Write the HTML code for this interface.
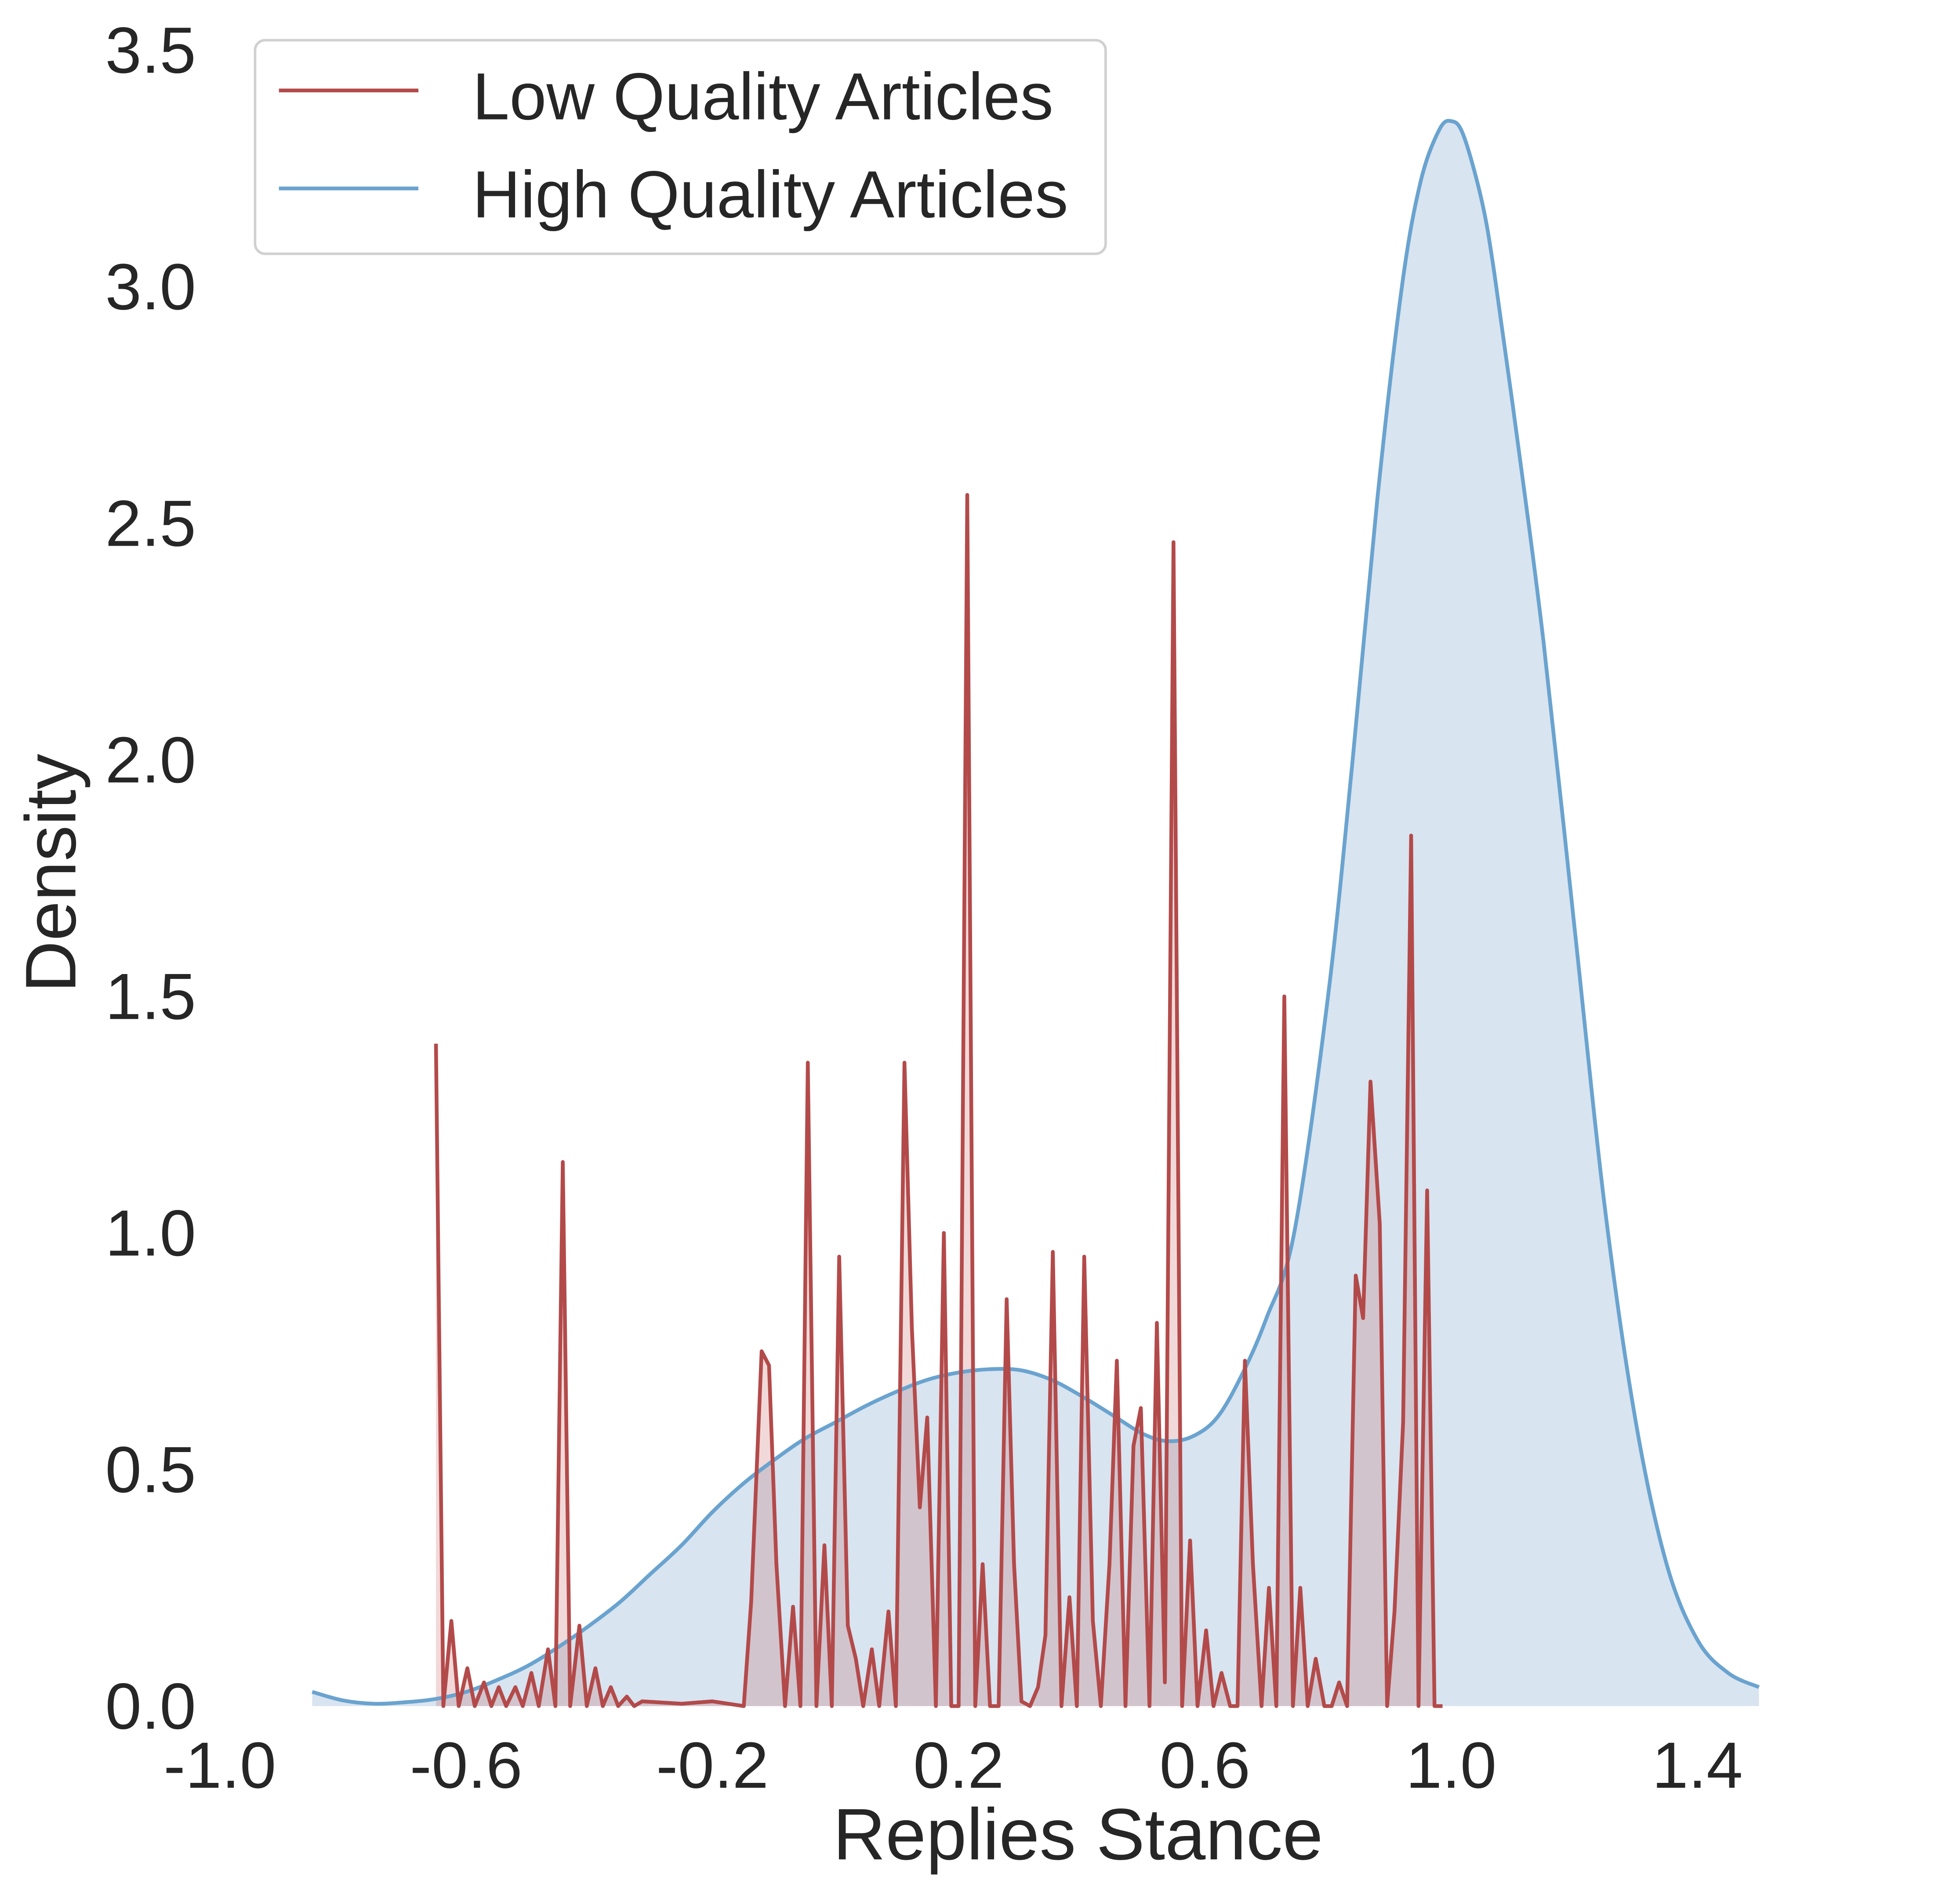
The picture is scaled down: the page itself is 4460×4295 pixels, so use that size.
<!DOCTYPE html>
<html><head><meta charset="utf-8"><style>
html,body{margin:0;padding:0;background:#fff;}
svg{display:block;}
text{font-family:"Liberation Sans",Arial,sans-serif;fill:#262626;}
</style></head><body>
<svg id="chart" width="4460" height="4295" viewBox="0 0 1560 1502" preserveAspectRatio="none" xmlns="http://www.w3.org/2000/svg">
<g id="plot"></g>
<g id="axes"></g>
<text x="858" y="1480" font-size="58" text-anchor="middle">Replies Stance</text>
<text transform="translate(60,695) rotate(-90)" font-size="57" text-anchor="middle">Density</text>
<g>
<rect x="203" y="32" width="677" height="170" rx="8" fill="#fff" stroke="#d0d0d0" stroke-width="2"/>
<g>
<line x1="222" y1="72" x2="333" y2="72" stroke="#b34a4a" stroke-width="3"/>
<text x="376" y="95" font-size="53">Low Quality Articles</text>
</g>
<g>
<line x1="222" y1="150" x2="333" y2="150" stroke="#6aa3cf" stroke-width="3"/>
<text x="376" y="173" font-size="53">High Quality Articles</text>
</g>
</g>
</svg>
<script>
const highX = [-0.85,-0.8,-0.75,-0.7,-0.65,-0.6,-0.55,-0.5,-0.45,-0.4,-0.35,-0.3,-0.25,-0.2,-0.15,-0.1,-0.05,0,0.05,0.1,0.15,0.2,0.25,0.3,0.35,0.4,0.45,0.5,0.54,0.58,0.62,0.66,0.7,0.745,0.8,0.84,0.88,0.92,0.95,0.98,1.0,1.02,1.05,1.07,1.1,1.15,1.2,1.25,1.3,1.35,1.4,1.45,1.5];
const highY = [0.03,0.012,0.005,0.008,0.015,0.03,0.055,0.085,0.125,0.17,0.22,0.28,0.34,0.41,0.47,0.52,0.565,0.6,0.635,0.665,0.69,0.705,0.712,0.71,0.69,0.655,0.615,0.575,0.56,0.57,0.61,0.7,0.82,1.0,1.5,2.0,2.55,3.0,3.22,3.33,3.35,3.32,3.18,3.03,2.75,2.25,1.65,1.05,0.6,0.3,0.14,0.07,0.04];
const lowX = [-0.649,-0.637,-0.624,-0.612,-0.598,-0.586,-0.571,-0.559,-0.547,-0.535,-0.52,-0.508,-0.494,-0.482,-0.467,-0.455,-0.443,-0.431,-0.416,-0.404,-0.39,-0.378,-0.365,-0.353,-0.339,-0.327,-0.314,-0.25,-0.2,-0.149,-0.137,-0.12,-0.108,-0.096,-0.082,-0.069,-0.057,-0.045,-0.031,-0.018,-0.006,0.006,0.02,0.033,0.045,0.059,0.071,0.086,0.098,0.112,0.124,0.137,0.149,0.163,0.176,0.188,0.2,0.214,0.227,0.239,0.251,0.265,0.278,0.29,0.302,0.316,0.329,0.341,0.353,0.367,0.38,0.392,0.404,0.418,0.431,0.445,0.457,0.471,0.484,0.496,0.51,0.522,0.535,0.549,0.563,0.576,0.588,0.602,0.614,0.627,0.641,0.653,0.665,0.678,0.692,0.704,0.716,0.729,0.743,0.755,0.767,0.78,0.794,0.806,0.818,0.831,0.845,0.857,0.869,0.884,0.896,0.908,0.922,0.935,0.947,0.961,0.973,0.986];
const lowY = [1.4,0,0.18,0,0.08,0,0.05,0,0.04,0,0.04,0,0.07,0,0.12,0,1.15,0,0.17,0,0.08,0,0.04,0,0.02,0,0.01,0.005,0.01,0,0.22,0.75,0.72,0.3,0,0.21,0,1.36,0,0.34,0,0.95,0.17,0.1,0,0.12,0,0.2,0,1.36,0.8,0.42,0.61,0,1.0,0,0,2.56,0,0.3,0,0,0.86,0.3,0.01,0,0.04,0.15,0.96,0,0.23,0,0.95,0.18,0,0.3,0.73,0,0.55,0.63,0,0.81,0.05,2.46,0,0.35,0,0.16,0,0.07,0,0,0.73,0.3,0,0.25,0,1.5,0,0.25,0,0.1,0,0,0.05,0,0.91,0.82,1.32,1.02,0,0.2,0.6,1.84,0,1.09,0,0];
const xTicks = [-1.0,-0.6,-0.2,0.2,0.6,1.0,1.4];
const yTicks = [0,0.5,1.0,1.5,2.0,2.5,3.0,3.5];

const NS='http://www.w3.org/2000/svg';
function sx(v){return 175+(v+1)*490;}
function sy(v){return 1358-v*376.6;}
const plot=document.getElementById('plot');
const axes=document.getElementById('axes');
function linePath(xs,ys){return xs.map((x,i)=>(i?'L':'M')+sx(x).toFixed(2)+','+sy(ys[i]).toFixed(2)).join(' ');}
function smoothPath(xs,ys){
  const p=xs.map((x,i)=>[sx(x),sy(ys[i])]);
  let d='M'+p[0][0].toFixed(2)+','+p[0][1].toFixed(2);
  for(let i=0;i<p.length-1;i++){
    const p0=p[i-1]||p[i],p1=p[i],p2=p[i+1],p3=p[i+2]||p[i+1];
    const c1=[p1[0]+(p2[0]-p0[0])/6,p1[1]+(p2[1]-p0[1])/6];
    const c2=[p2[0]-(p3[0]-p1[0])/6,p2[1]-(p3[1]-p1[1])/6];
    d+=' C'+c1[0].toFixed(2)+','+c1[1].toFixed(2)+' '+c2[0].toFixed(2)+','+c2[1].toFixed(2)+' '+p2[0].toFixed(2)+','+p2[1].toFixed(2);
  }
  return d;
}
function closeArea(d,xs){return d+' L'+sx(xs[xs.length-1]).toFixed(2)+','+sy(0)+' L'+sx(xs[0]).toFixed(2)+','+sy(0)+' Z';}

const hf=document.createElementNS(NS,'path');
hf.setAttribute('d',closeArea(smoothPath(highX,highY),highX));hf.setAttribute('fill','#d8e4f0');


plot.appendChild(hf);
const lf=document.createElementNS(NS,'path');
lf.setAttribute('d',closeArea(linePath(lowX,lowY),lowX));lf.setAttribute('fill','rgba(190,80,80,0.22)');


plot.appendChild(lf);
const hl=document.createElementNS(NS,'path');
hl.setAttribute('d',smoothPath(highX,highY));hl.setAttribute('fill','none');hl.setAttribute('stroke','#6aa3cf');hl.setAttribute('stroke-width','3');hl.setAttribute('stroke-linejoin','round');


plot.appendChild(hl);
const ll=document.createElementNS(NS,'path');
ll.setAttribute('d',linePath(lowX,lowY));ll.setAttribute('fill','none');ll.setAttribute('stroke','#b34a4a');ll.setAttribute('stroke-width','3');ll.setAttribute('stroke-linejoin','round');


plot.appendChild(ll);

xTicks.forEach(v=>{
  const t=document.createElementNS(NS,'text');
  t.setAttribute('x',sx(v));t.setAttribute('y',1423);t.setAttribute('font-size','52');t.setAttribute('text-anchor','middle');
  t.textContent=v.toFixed(1);
  
  
  axes.appendChild(t);
});
yTicks.forEach(v=>{
  const t=document.createElementNS(NS,'text');
  t.setAttribute('x',156);t.setAttribute('y',sy(v)+18);t.setAttribute('font-size','52');t.setAttribute('text-anchor','end');
  t.textContent=v.toFixed(1);
  
  
  axes.appendChild(t);
});
</script>
</body></html>
